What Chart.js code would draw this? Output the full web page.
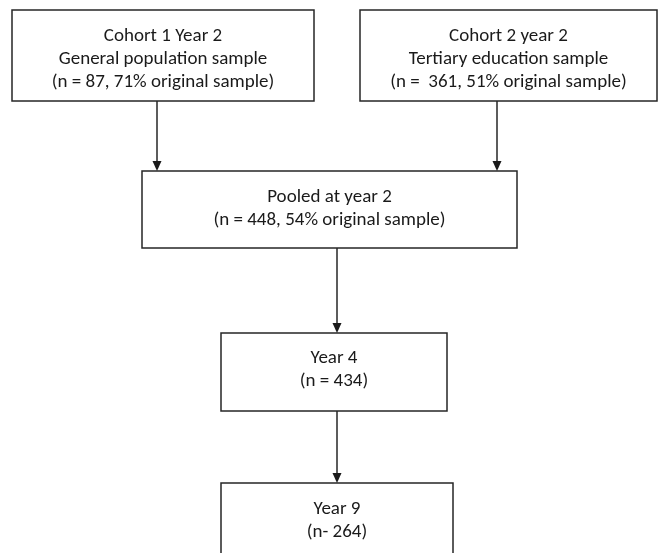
<!DOCTYPE html>
<html>
<head>
<meta charset="utf-8">
<script src="https://cdn.jsdelivr.net/npm/chart.js@4.4.1/dist/chart.umd.min.js"></script>
<style>
  html, body { margin: 0; padding: 0; background: #fff; }
  #flowChart { display: block; }
</style>
</head>
<body>
<canvas id="flowChart" width="658" height="553"></canvas>
<script>
// flow chart data
const stages = ['Cohort 1 Year 2', 'Cohort 2 year 2', 'Pooled at year 2', 'Year 4', 'Year 9'];
const samples = ['General population sample', 'Tertiary education sample', '', '', ''];
const nPrefix = ['n = ', 'n =  ', 'n = ', 'n = ', 'n- '];
const nValues = [87, 361, 448, 434, 264];
const pctOriginal = [71, 51, 54, null, null];
const links = [[0, 2], [1, 2], [2, 3], [3, 4]];

// layout (page units, y down) - kept apart from the data
const boxes = [
    { x0: 12, x1: 314, y0: 10, y1: 101, out: 157 },
    { x0: 360, x1: 657, y0: 10, y1: 101, out: 497 },
    { x0: 142, x1: 517, y0: 171, y1: 248, out: 337 },
    { x0: 221, x1: 447, y0: 333, y1: 411, out: 337 },
    { x0: 221, x1: 453, y0: 483, y1: 560, out: 337 }
];
const textTop = [36, 36, 197, 358, 509];
const lineGap = 23;

function boxLines(i) {
    const lines = [stages[i]];
    if (samples[i]) lines.push(samples[i]);
    let n = '(' + nPrefix[i] + nValues[i];
    if (pctOriginal[i] !== null) n += ', ' + pctOriginal[i] + '% original sample';
    lines.push(n + ')');
    return lines;
}

const flowPlugin = {
    id: 'flow',
    afterDraw(chart) {
        const ctx = chart.ctx;
        const sx = chart.scales.x, sy = chart.scales.y;
        const px = v => sx.getPixelForValue(v);
        const py = v => sy.getPixelForValue(v);
        ctx.save();
        ctx.strokeStyle = '#262626';
        ctx.lineWidth = 1.5;

        // boxes
        boxes.forEach((b, i) => {
            ctx.strokeRect(px(b.x0), py(b.y0), px(b.x1) - px(b.x0), py(b.y1) - py(b.y0));
            ctx.font = '19px Carlito, Lato, sans-serif';
            ctx.textAlign = 'center';
            ctx.textBaseline = 'middle';
            ctx.fillStyle = '#1a1a1a';
            const cx = (b.x0 + b.x1) / 2;
            boxLines(i).forEach((t, k) => {
                ctx.fillText(t, px(cx), py(textTop[i] + k * lineGap));
            });
        });

        // arrows
        ctx.fillStyle = '#1a1a1a';
        links.forEach(([a, b]) => {
            const from = boxes[a], to = boxes[b];
            const x = px(from.out);
            const yStart = py(from.y1), yEnd = py(to.y0);
            ctx.beginPath();
            ctx.moveTo(x, yStart);
            ctx.lineTo(x, yEnd - 8);
            ctx.stroke();
            ctx.beginPath();
            ctx.moveTo(x - 4.5, yEnd - 10);
            ctx.lineTo(x + 4.5, yEnd - 10);
            ctx.lineTo(x, yEnd);
            ctx.closePath();
            ctx.fill();
        });
        ctx.restore();
    }
};

new Chart(document.getElementById('flowChart'), {
    type: 'scatter',
    data: {
        datasets: [{
            label: 'stages',
            data: boxes.map(b => ({ x: (b.x0 + b.x1) / 2, y: (b.y0 + b.y1) / 2 })),
            pointRadius: 0
        }]
    },
    options: {
        responsive: false,
        animation: false,
        layout: { padding: 0 },
        scales: {
            x: { type: 'linear', display: false, min: 0, max: 658 },
            y: { type: 'linear', display: false, min: 0, max: 553, reverse: true }
        },
        plugins: {
            legend: { display: false },
            tooltip: { enabled: false }
        }
    },
    plugins: [flowPlugin]
});
</script>
</body>
</html>
